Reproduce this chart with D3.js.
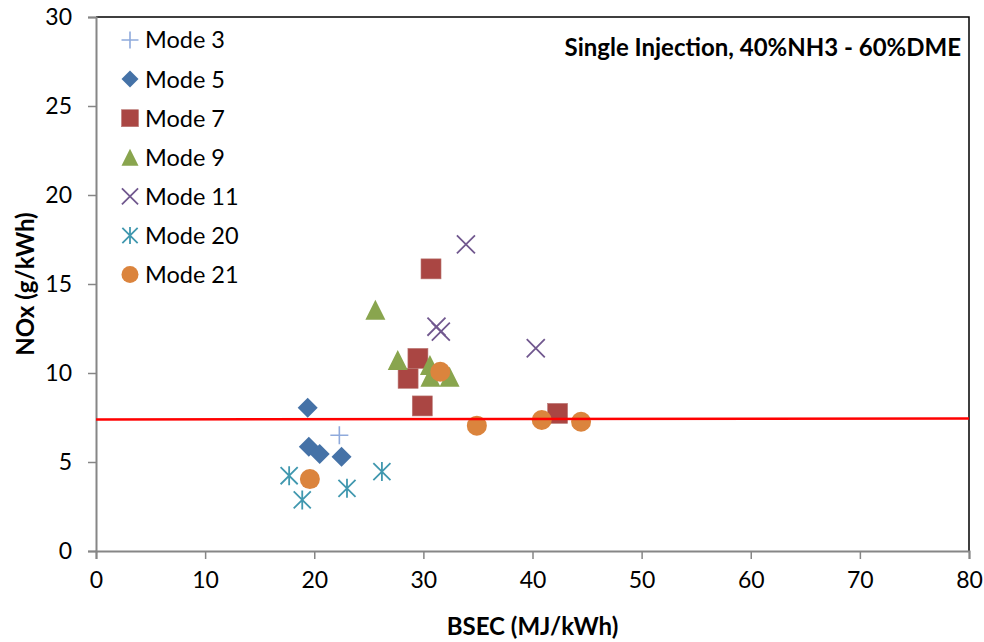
<!DOCTYPE html>
<html>
<head>
<meta charset="utf-8">
<script src="https://cdn.jsdelivr.net/npm/d3@7"></script>
<style>
  html, body { margin: 0; padding: 0; background: #fff; }
  svg { display: block; font-family: Lato, "Open Sans", sans-serif; }
</style>
</head>
<body>
<svg id="chart" width="984" height="642"></svg>
<script>
// NOx vs BSEC, single injection, 40% NH3 / 60% DME
const seriesNames = ["Mode 3", "Mode 5", "Mode 7", "Mode 9", "Mode 11", "Mode 20", "Mode 21"];

const mode3X  = [22.3];
const mode3Y  = [6.5];
const mode5X  = [19.4, 19.5, 20.5, 22.5];
const mode5Y  = [8.05, 5.86, 5.45, 5.3];
const mode7X  = [30.7, 29.5, 28.6, 29.9, 42.3];
const mode7Y  = [15.85, 10.82, 9.7, 8.15, 7.73];
const mode9X  = [25.6, 27.65, 30.6, 30.65, 32.4];
const mode9Y  = [13.55, 10.73, 10.45, 9.79, 9.79];
const mode11X = [33.9, 31.2, 31.6, 40.3];
const mode11Y = [17.23, 12.6, 12.32, 11.39];
const mode20X = [17.7, 18.9, 23.0, 26.2];
const mode20Y = [4.23, 2.87, 3.52, 4.46];
const mode21X = [19.6, 31.55, 34.9, 40.85, 44.45];
const mode21Y = [4.04, 10.07, 7.04, 7.36, 7.26];

// NOx limit line
const limitX = [0, 80];
const limitY = [7.39, 7.45];

const xTicks = [0, 10, 20, 30, 40, 50, 60, 70, 80];
const yTicks = [0, 5, 10, 15, 20, 25, 30];

const seriesX = [mode3X, mode5X, mode7X, mode9X, mode11X, mode20X, mode21X];
const seriesY = [mode3Y, mode5Y, mode7Y, mode9Y, mode11Y, mode20Y, mode21Y];
const markerKind = ["plus", "diamond", "square", "triangle", "cross", "star", "circle"];
const markerColor = ["#8FAADC", "#4572A7", "#AA4643", "#89A54E", "#71588F", "#4198AF", "#DB843D"];

const svg = d3.select("#chart");
const plotL = 96, plotR = 969, plotT = 17, plotB = 551;

const x = d3.scaleLinear().domain([0, 80]).range([plotL, plotR]);
const y = d3.scaleLinear().domain([0, 30]).range([plotB, plotT]);

// plot frame: black on top and right
svg.append("path")
  .attr("d", `M${plotL},${plotT}H${plotR}V${plotB}`)
  .attr("fill", "none").attr("stroke", "#000").attr("stroke-width", 1.5);

// axes
const axisColor = "#868686";
const xAxis = svg.append("g").attr("transform", `translate(0,${plotB})`)
  .call(d3.axisBottom(x).tickValues(xTicks).tickSize(8).tickPadding(13).tickFormat(d3.format("d")));
const yAxis = svg.append("g").attr("transform", `translate(${plotL},0)`)
  .call(d3.axisLeft(y).tickValues(yTicks).tickSize(8).tickPadding(16).tickFormat(d3.format("d")));
[xAxis, yAxis].forEach(g => {
  g.select(".domain").attr("stroke", axisColor).attr("stroke-width", 2);
  g.selectAll(".tick line").attr("stroke", axisColor).attr("stroke-width", 1.5);
  g.selectAll(".tick text").attr("fill", "#000").style("font-size", "23px")
    .style("font-family", "Lato, sans-serif");
});
xAxis.selectAll(".tick text").attr("dy", "0.71em");

// marker drawing
function drawMarker(g, kind, color, s) {
  const h = s / 2;
  if (kind === "plus") {
    g.append("path").attr("d", `M${-h},0H${h}M0,${-h}V${h}`)
      .attr("stroke", color).attr("stroke-width", 1.6).attr("fill", "none");
  } else if (kind === "diamond") {
    g.append("path").attr("d", `M0,${-h}L${h},0L0,${h}L${-h},0Z`).attr("fill", color);
  } else if (kind === "square") {
    g.append("rect").attr("x", -h).attr("y", -h).attr("width", s).attr("height", s)
      .attr("fill", color).attr("stroke", "#B97774").attr("stroke-width", 0.6);
  } else if (kind === "triangle") {
    g.append("path").attr("d", `M0,${-h}L${h},${h}L${-h},${h}Z`).attr("fill", color);
  } else if (kind === "cross") {
    const c = h * 0.95;
    g.append("path").attr("d", `M${-c},${-c}L${c},${c}M${-c},${c}L${c},${-c}`)
      .attr("stroke", color).attr("stroke-width", 1.8).attr("fill", "none");
  } else if (kind === "star") {
    const c = h * 0.9;
    g.append("path").attr("d", `M${-c},${-c}L${c},${c}M${-c},${c}L${c},${-c}M0,${-h}V${h}`)
      .attr("stroke", color).attr("stroke-width", 1.8).attr("fill", "none");
  } else if (kind === "circle") {
    g.append("circle").attr("r", h).attr("fill", color);
  }
}

const sizes = [18, 20, 20, 20, 19, 19, 20];
seriesNames.forEach((name, i) => {
  const pts = seriesX[i].map((v, j) => [v, seriesY[i][j]]);
  const grp = svg.append("g").attr("class", "series");
  pts.forEach(p => {
    const m = grp.append("g").attr("transform", `translate(${x(p[0])},${y(p[1])})`);
    drawMarker(m, markerKind[i], markerColor[i], sizes[i]);
  });
});

// limit line
svg.append("path")
  .datum(limitX.map((v, i) => [v, limitY[i]]))
  .attr("d", d3.line().x(d => x(d[0])).y(d => y(d[1])))
  .attr("stroke", "#FF0000").attr("stroke-width", 2.5).attr("fill", "none");

// legend
const legend = svg.append("g");
seriesNames.forEach((name, i) => {
  const cy = 40 + i * 39.1;
  const m = legend.append("g").attr("transform", `translate(130,${cy})`);
  drawMarker(m, markerKind[i], markerColor[i], 17);
  legend.append("text").attr("x", 145).attr("y", cy).attr("dy", "0.36em")
    .style("font-size", "23.5px").text(name);
});

// annotation
svg.append("text").attr("x", 961).attr("y", 47).attr("dy", "0.36em")
  .attr("text-anchor", "end").style("font-size", "24px").style("font-weight", "bold")
  .text("Single Injection, 40%NH3 - 60%DME");

// axis titles
svg.append("text").attr("x", (plotL + plotR) / 2).attr("y", 626).attr("dy", "0.36em")
  .attr("text-anchor", "middle").style("font-size", "24px").style("font-weight", "bold")
  .text("BSEC (MJ/kWh)");
svg.append("text").attr("transform", `translate(25,${(plotT + plotB) / 2}) rotate(-90)`)
  .attr("dy", "0.36em").attr("text-anchor", "middle")
  .style("font-size", "24px").style("font-weight", "bold")
  .text("NOx (g/kWh)");
</script>
</body>
</html>
